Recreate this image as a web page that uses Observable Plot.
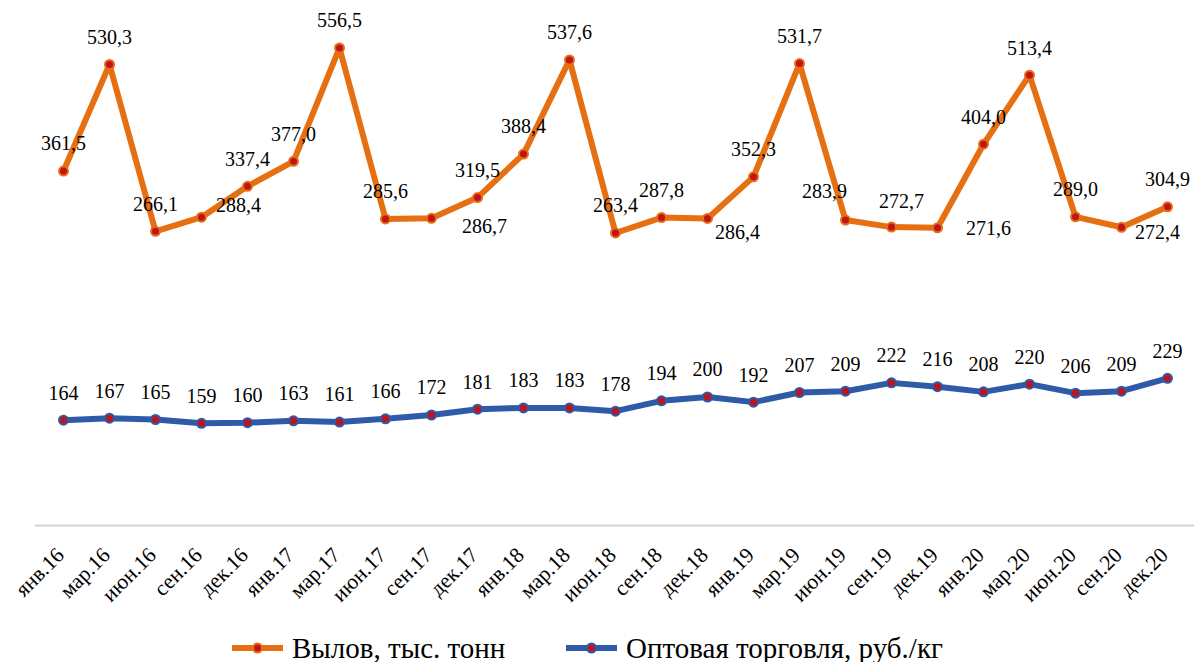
<!DOCTYPE html>
<html>
<head>
<meta charset="utf-8">
<script src="https://cdn.jsdelivr.net/npm/d3@7"></script>
<script src="https://cdn.jsdelivr.net/npm/@observablehq/plot@0.6"></script>
<style>
  html, body { margin: 0; padding: 0; background: #fff; }
  body { font-family: 'Liberation Serif'; color: #000; }
  #chart { width: 1195px; height: 622px; }
  #legend { position: relative; width: 1195px; height: 40px; font-size: 29px; font-family: 'Liberation Serif'; }
  .item { position: absolute; top: 6px; height: 40px; display: flex; align-items: center; white-space: nowrap; }
  .item svg { margin-right: 9px; }
</style>
</head>
<body>
<div id="chart"></div>
<div id="legend"></div>
<script>
// ---- data ----
const categories = [
  "янв.16","мар.16","июн.16","сен.16","дек.16",
  "янв.17","мар.17","июн.17","сен.17","дек.17",
  "янв.18","мар.18","июн.18","сен.18","дек.18",
  "янв.19","мар.19","июн.19","сен.19","дек.19",
  "янв.20","мар.20","июн.20","сен.20","дек.20"
];
// Вылов, тыс. тонн
const catchValues = [
  361.5, 530.3, 266.1, 288.4, 337.4,
  377.0, 556.5, 285.6, 286.7, 319.5,
  388.4, 537.6, 263.4, 287.8, 286.4,
  352.3, 531.7, 283.9, 272.7, 271.6,
  404.0, 513.4, 289.0, 272.4, 304.9
];
// Оптовая торговля, руб./кг
const priceValues = [
  164, 167, 165, 159, 160,
  163, 161, 166, 172, 181,
  183, 183, 178, 194, 200,
  192, 207, 209, 222, 216,
  208, 220, 206, 209, 229
];
const seriesNames = ["Вылов, тыс. тонн", "Оптовая торговля, руб./кг"];

// ---- styling / layout config (not data) ----
const ORANGE = "#E66F12";
const BLUE = "#2E5BA8";
const MARKER = "#C0141A";
const SERIF = "Liberation Serif";
// data-label placements that differ from the default "above"
const catchLabelShift = {
  "сен.16": [37, -12],
  "сен.17": [53, 8],
  "дек.18": [30, 14],
  "июн.19": [-21, -28],
  "сен.19": [10, -26],
  "дек.19": [51, 1],
  "сен.20": [36, 5]
};
const DEFAULT_SHIFT = [0, -27];

// secondary axis (price) mapped into the primary (catch) axis range
const primaryDomain = [-200, 600];
const secondary = d3.scaleLinear([0, 786], primaryDomain);

const fmt1 = v => v.toFixed(1).replace(".", ",");

const catchData = categories.map((c, i) => ({cat: c, v: catchValues[i]}));
const priceData = categories.map((c, i) => ({cat: c, v: priceValues[i]}));

const shiftOf = d => catchLabelShift[d.cat] || DEFAULT_SHIFT;

const plot = Plot.plot({
  width: 1195,
  height: 622,
  marginLeft: 35,
  marginRight: 1,
  marginTop: 20,
  marginBottom: 97,
  style: {fontFamily: SERIF, fontSize: "20px", color: "#000", background: "#fff"},
  x: {type: "point", domain: categories, padding: 0.5, axis: null, label: null},
  y: {domain: primaryDomain, axis: null},
  marks: [
    Plot.ruleY([primaryDomain[0]], {stroke: "#d4d4d4", strokeWidth: 2}),
    Plot.axisX({tickSize: 0, tickPadding: 26, tickRotate: -45, dx: -3, fontSize: 21.5, fill: "#000", label: null}),
    // catch series
    Plot.line(catchData, {x: "cat", y: "v", stroke: ORANGE, strokeWidth: 6, strokeLinejoin: "round"}),
    Plot.dot(catchData, {x: "cat", y: "v", r: 4.5, fill: MARKER, stroke: ORANGE, strokeWidth: 2}),
    ...catchData.map(d => Plot.text([d], {
      x: "cat", y: "v", text: e => fmt1(e.v),
      dx: shiftOf(d)[0], dy: shiftOf(d)[1], fontSize: 20, fill: "#000"
    })),
    // price series (secondary axis)
    Plot.line(priceData, {x: "cat", y: d => secondary(d.v), stroke: BLUE, strokeWidth: 6, strokeLinejoin: "round"}),
    Plot.dot(priceData, {x: "cat", y: d => secondary(d.v), r: 4.5, fill: MARKER, stroke: BLUE, strokeWidth: 2}),
    Plot.text(priceData, {x: "cat", y: d => secondary(d.v), text: d => String(d.v), dy: -27, fontSize: 20, fill: "#000"})
  ]
});
plot.setAttribute("font-family", SERIF);
document.getElementById("chart").appendChild(plot);

// ---- legend ----
const legend = d3.select("#legend");
const legendItems = [
  {name: seriesNames[0], color: ORANGE, left: 232},
  {name: seriesNames[1], color: BLUE, left: 566}
];
for (const it of legendItems) {
  const div = legend.append("div").attr("class", "item").style("left", it.left + "px");
  const svg = div.append("svg").attr("width", 51).attr("height", 16);
  svg.append("line").attr("x1", 0).attr("x2", 51).attr("y1", 8).attr("y2", 8)
    .attr("stroke", it.color).attr("stroke-width", 6).attr("stroke-linecap", "round");
  svg.append("circle").attr("cx", 25.5).attr("cy", 8).attr("r", 4.5)
    .attr("fill", MARKER).attr("stroke", it.color).attr("stroke-width", 2);
  div.append("span").text(it.name);
}
</script>
</body>
</html>
